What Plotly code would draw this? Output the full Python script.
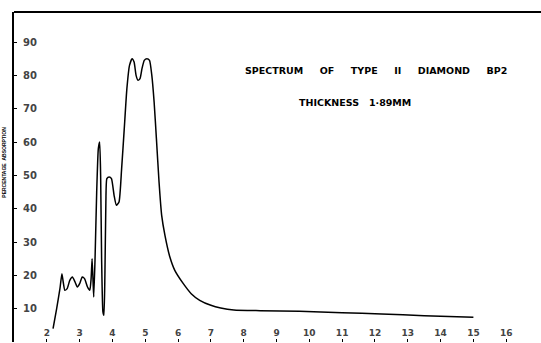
import plotly.graph_objects as go

wavelength = [2.19, 2.30, 2.40, 2.46, 2.50, 2.55, 2.62, 2.70, 2.78, 2.86, 2.93, 3.00, 3.08, 3.15,
              3.24, 3.31, 3.35, 3.38, 3.41, 3.43, 3.47, 3.52, 3.57, 3.61, 3.64, 3.67, 3.71, 3.74,
              3.77, 3.80, 3.83, 3.90, 3.97, 4.05, 4.12, 4.20, 4.28, 4.36, 4.44, 4.52, 4.60, 4.66,
              4.72, 4.78, 4.84, 4.90, 4.97, 5.05, 5.13, 5.20, 5.27, 5.34, 5.42, 5.50, 5.60, 5.75,
              5.90, 6.16, 6.40, 6.66, 7.00, 7.30, 7.70, 8.5, 9.7, 11.0, 12.2, 13.5, 15.0]
absorption = [4.0, 10.0, 16.0, 20.5, 18.0, 15.5, 16.0, 18.5, 19.5, 18.0, 16.5, 17.5, 19.5, 19.0,
              16.5, 15.5, 19.0, 25.0, 18.0, 13.5, 25.0, 45.0, 58.0, 60.0, 50.0, 25.0, 9.0, 8.0,
              20.0, 42.0, 49.0, 49.5, 49.0, 44.0, 41.0, 42.0, 52.0, 64.0, 76.0, 83.0, 85.0, 84.0,
              80.0, 78.5, 79.0, 82.0, 84.5, 85.0, 84.5, 80.0, 72.0, 61.0, 48.0, 38.0, 32.0, 25.5,
              21.5, 17.5, 14.5, 12.5, 11.0, 10.2, 9.6, 9.4, 9.2, 8.8, 8.4, 7.9, 7.4]

x_ticks = [2, 3, 4, 5, 6, 7, 8, 9, 10, 11, 12, 13, 14, 15, 16]
y_ticks = [10, 20, 30, 40, 50, 60, 70, 80, 90]

NB = "\u00a0"
title_line1 = (NB * 5).join(["SPECTRUM", "OF", "TYPE", "II", "DIAMOND", "BP2"])
title_line2 = (NB * 3).join(["THICKNESS", "1·89MM"])
y_title = (NB * 2).join(["PERCENTAGE", "ABSORPTION"])

font_family = "DejaVu Sans"

fig = go.Figure()
fig.add_trace(go.Scatter(
    x=wavelength, y=absorption, mode="lines",
    line=dict(color="black", width=1.5, shape="spline", smoothing=0.5),
    hoverinfo="skip", showlegend=False,
))

fig.update_layout(
    width=541, height=343,
    margin=dict(l=14, r=0, t=12, b=1),
    paper_bgcolor="white", plot_bgcolor="white",
    font=dict(family=font_family, color="black", size=10),
    xaxis=dict(
        range=[1.0, 17.06], tickvals=x_ticks, ticktext=[str(v) for v in x_ticks],
        ticks="inside", ticklen=3, tickcolor="black",
        ticklabelposition="inside", showgrid=False, zeroline=False,
        showline=False, tickfont=dict(size=9, weight="bold"),
    ),
    yaxis=dict(
        range=[0, 99], tickvals=y_ticks, ticktext=[str(v) for v in y_ticks],
        ticks="inside", ticklen=3, tickcolor="black",
        ticklabelposition="inside", ticklabelstandoff=5,
        showgrid=False, zeroline=False,
        showline=True, linecolor="black", linewidth=2,
        tickfont=dict(size=10, weight="bold"),
    ),
    shapes=[dict(type="line", xref="paper", yref="paper", x0=0, x1=1, y0=1, y1=1,
                 line=dict(color="black", width=2))],
    annotations=[
        dict(text=title_line1, xref="paper", yref="paper", x=0.687, y=0.824,
             showarrow=False, font=dict(size=9.5, weight="bold"), xanchor="center", yanchor="middle"),
        dict(text=title_line2, xref="paper", yref="paper", x=0.647, y=0.727,
             showarrow=False, font=dict(size=9.5, weight="bold"), xanchor="center", yanchor="middle"),
        dict(text=y_title, xref="paper", yref="paper", x=-0.018, y=0.545,
             showarrow=False, textangle=-90, font=dict(size=5, weight="bold", family="Liberation Sans"),
             xanchor="center", yanchor="middle"),
    ],
)

fig.write_html("out.html")
